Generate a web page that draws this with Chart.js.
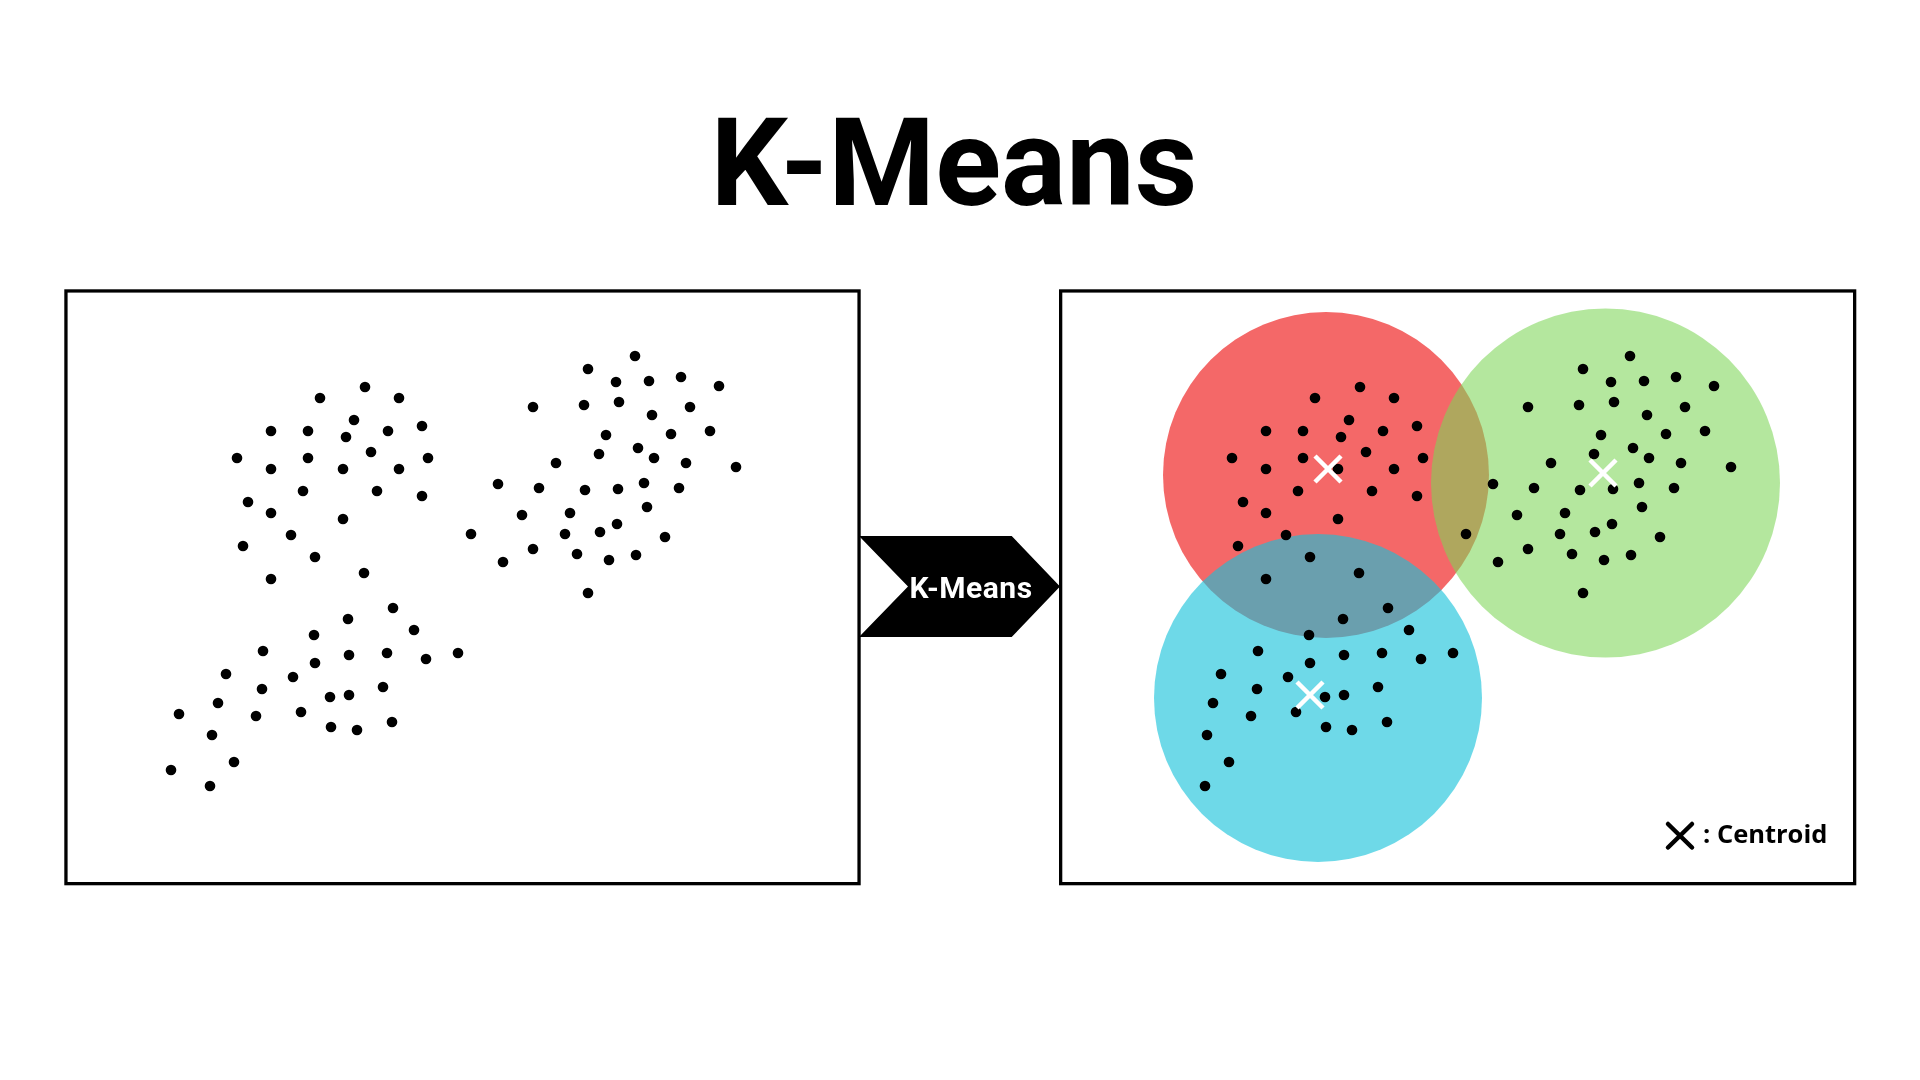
<!DOCTYPE html>
<html>
<head>
<meta charset="utf-8">
<title>K-Means</title>
<script src="https://cdn.jsdelivr.net/npm/chart.js@4.4.1/dist/chart.umd.min.js"></script>
<style>
  html, body { margin: 0; padding: 0; background: #ffffff; width: 1920px; height: 1080px; overflow: hidden; }
  canvas { position: absolute; top: 288px; }
  #leftChart { left: 64px; }
  #rightChart { left: 1059px; }
  svg { position: absolute; left: 0; top: 0; pointer-events: none; }
</style>
</head>
<body>
<canvas id="leftChart" width="797" height="598"></canvas>
<canvas id="rightChart" width="797" height="598"></canvas>
<svg width="1920" height="1080" xmlns="http://www.w3.org/2000/svg">
  <text x="954" y="205" text-anchor="middle" font-family="Roboto" font-weight="700" font-size="122" fill="#000">K-Means</text>
  <rect x="65.95" y="290.95" width="793.1" height="592.7" fill="none" stroke="#000" stroke-width="3.3"/>
  <rect x="1060.65" y="290.95" width="794" height="592.7" fill="none" stroke="#000" stroke-width="3.3"/>
  <polygon points="859,536 1011.7,536 1060,586.5 1011.7,637 859,637 908,586.5" fill="#000"/>
  <text x="971" y="598" text-anchor="middle" font-family="Roboto" font-weight="700" font-size="30" letter-spacing="0.5" fill="#fff">K-Means</text>
  <line x1="1668" y1="824" x2="1692" y2="847.5" stroke="#000" stroke-width="4.5" stroke-linecap="round"/>
  <line x1="1692" y1="824" x2="1668" y2="847.5" stroke="#000" stroke-width="4.5" stroke-linecap="round"/>
  <text x="1703" y="843.3" font-family="Open Sans" font-weight="700" font-size="25.5" fill="#000">: Centroid</text>
</svg>
<script>
// ---- data (panel units: x from panel left, y from panel bottom) ----
const clusterAX = [301, 256, 335, 290, 207, 244, 282, 324, 358, 173, 244, 307, 364, 207, 279, 335, 239, 313, 358, 184, 207, 279, 227, 179, 251, 300, 207];
const clusterAY = [499, 488, 488, 466, 455, 455, 449, 455, 460, 428, 428, 434, 428, 417, 417, 417, 395, 395, 390, 384, 373, 367, 351, 340, 329, 313, 307];

const clusterBX = [571, 524, 552, 585, 617, 655, 469, 520, 555, 626, 588, 542, 607, 646, 574, 535, 590, 492, 622, 672, 434, 475, 521, 554, 580, 615, 583, 458, 506, 553, 536, 501, 601, 407, 469, 513, 545, 572, 439, 524];
const clusterBY = [530, 517, 504, 505, 509, 500, 479, 481, 484, 479, 471, 451, 452, 455, 438, 432, 428, 423, 423, 419, 402, 398, 396, 397, 403, 398, 379, 371, 373, 362, 354, 352, 349, 352, 337, 332, 326, 331, 324, 293];

const clusterCX = [329, 284, 350, 250, 199, 285, 323, 362, 394, 251, 162, 229, 198, 319, 266, 285, 154, 192, 237, 148, 267, 293, 328, 170, 146];
const clusterCY = [278, 267, 256, 251, 235, 231, 233, 227, 233, 223, 212, 209, 197, 199, 189, 191, 183, 170, 174, 151, 159, 156, 164, 124, 100];

// points present only in the raw (left) panel
const leftOnlyX = [115, 107];
const leftOnlyY = [172, 116];

// clusters found by K-Means (red, green, blue)
const centerX = [267, 546.5, 259];
const centerY = [411, 403, 188];
const clusterRadius = [163, 174.5, 164];
const centroidX = [269, 544, 251];
const centroidY = [417, 413, 191];

// ---- helpers ----
const pts = (xs, ys) => xs.map((x, i) => ({ x: x, y: ys[i] }));

const allDotsLeft = pts(clusterAX, clusterAY)
  .concat(pts(clusterBX, clusterBY))
  .concat(pts(clusterCX, clusterCY))
  .concat(pts(leftOnlyX, leftOnlyY));
const allDotsRight = pts(clusterAX, clusterAY)
  .concat(pts(clusterBX, clusterBY))
  .concat(pts(clusterCX, clusterCY));

const circleColors = ['rgb(244,104,104)', 'rgba(126,214,88,0.58)', 'rgba(21,194,218,0.62)'];

function baseOptions() {
  return {
    responsive: false,
    maintainAspectRatio: false,
    animation: false,
    devicePixelRatio: 1,
    events: [],
    layout: { padding: 0, autoPadding: false },
    plugins: { legend: { display: false }, tooltip: { enabled: false }, title: { display: false } },
    scales: {
      x: { type: 'linear', min: 0, max: 797, display: false },
      y: { type: 'linear', min: 0, max: 598, display: false }
    }
  };
}

function dotDataset(data) {
  return { data: data, pointRadius: 5.3, pointHoverRadius: 5.3, backgroundColor: '#000', borderWidth: 0, clip: false };
}

new Chart(document.getElementById('leftChart'), {
  type: 'scatter',
  data: { datasets: [dotDataset(allDotsLeft)] },
  options: baseOptions()
});

// draw order: index 0 on top
const rightDatasets = [];
rightDatasets.push({
  data: pts(centroidX, centroidY),
  pointStyle: 'crossRot', pointRadius: 18.4, pointHoverRadius: 18.4,
  borderColor: '#ffffff', backgroundColor: '#ffffff', borderWidth: 4.5, clip: false
});
rightDatasets.push(dotDataset(allDotsRight));
// blue, green, red (red at bottom)
[2, 1, 0].forEach(i => {
  rightDatasets.push({
    data: [{ x: centerX[i], y: centerY[i] }],
    pointRadius: clusterRadius[i], pointHoverRadius: clusterRadius[i],
    backgroundColor: circleColors[i], borderWidth: 0, clip: false
  });
});

new Chart(document.getElementById('rightChart'), {
  type: 'scatter',
  data: { datasets: rightDatasets },
  options: baseOptions()
});
</script>
</body>
</html>
